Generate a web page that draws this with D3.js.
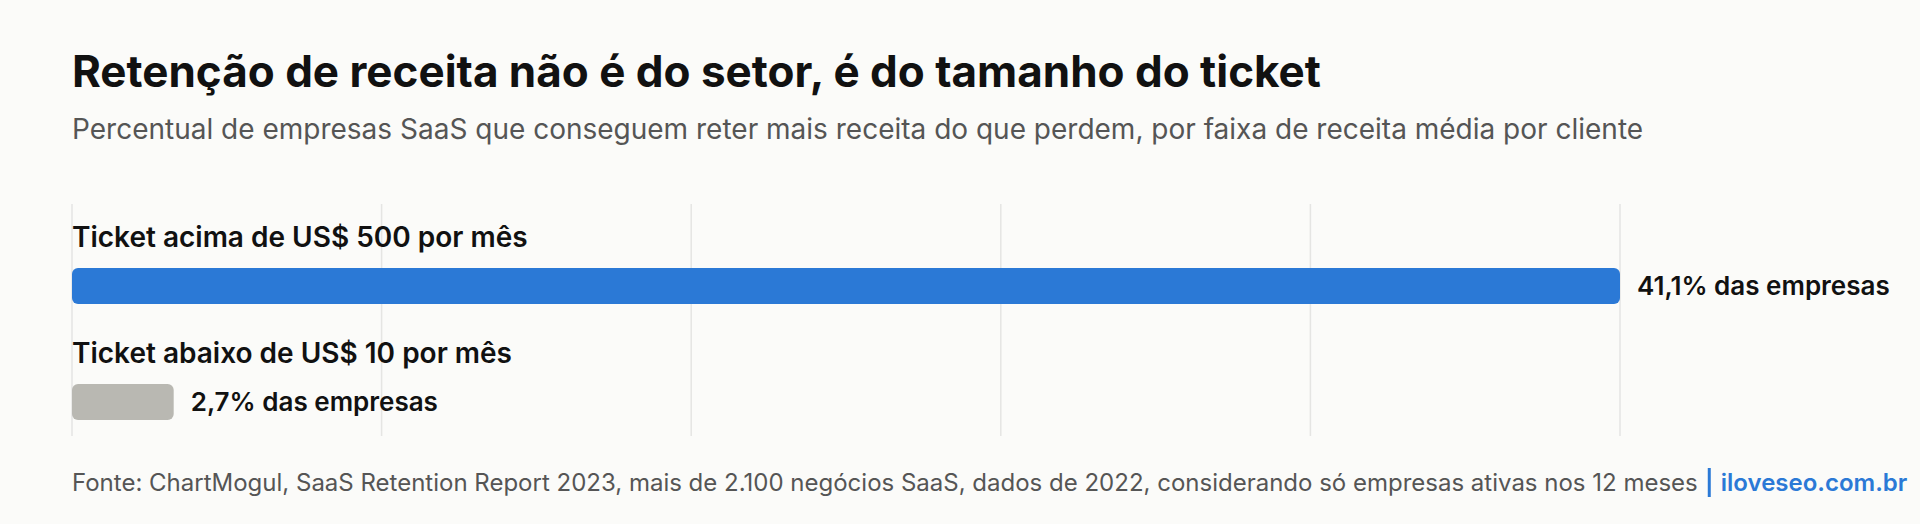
<!DOCTYPE html>
<html><head><meta charset="utf-8">
<script src="https://cdn.jsdelivr.net/npm/d3@7"></script>
<style>
  body { margin: 0; background: #fbfbf9; font-family: Inter, 'Noto Sans', sans-serif; }
</style>
</head><body>
<svg id="chart" width="1920" height="524"></svg>
<script>
// dados (ChartMogul, SaaS Retention Report 2023)
const categories = ['Ticket acima de US$ 500 por mês', 'Ticket abaixo de US$ 10 por mês'];
const values = [41.1, 2.7];
const valueLabels = ['41,1% das empresas', '2,7% das empresas'];
const barColors = ['#2b79d6', '#b9b8b2'];

const title = 'Retenção de receita não é do setor, é do tamanho do ticket';
const subtitle = 'Percentual de empresas SaaS que conseguem reter mais receita do que perdem, por faixa de receita média por cliente';
const source = 'Fonte: ChartMogul, SaaS Retention Report 2023, mais de 2.100 negócios SaaS, dados de 2022, considerando só empresas ativas nos 12 meses';
const brand = 'iloveseo.com.br';

const left = 72;
const barHeight = 36;

const svg = d3.select('#chart');

const x = d3.scaleLinear()
    .domain([0, d3.max(values)])
    .range([left, 1620]);

const y = d3.scaleBand()
    .domain(categories)
    .range([205, 437]);

// titulo
svg.append('text')
    .attr('x', left)
    .attr('y', 87)
    .attr('font-size', 44)
    .attr('font-weight', 700)
    .attr('fill', '#111')
    .text(title);

svg.append('text')
    .attr('x', left)
    .attr('y', 139)
    .attr('font-size', 28)
    .attr('fill', '#555')
    .text(subtitle);

// grade vertical
const gridVals = d3.range(6).map(i => d3.max(values) * i / 5);
svg.append('g')
    .selectAll('line')
    .data(gridVals)
    .join('line')
    .attr('x1', d => x(d))
    .attr('x2', d => x(d))
    .attr('y1', 204)
    .attr('y2', 436)
    .attr('stroke', '#e5e5e3')
    .attr('stroke-width', 1.5);

const rows = svg.append('g')
    .selectAll('g')
    .data(categories)
    .join('g')
    .attr('transform', d => `translate(0,${y(d)})`);

rows.append('text')
    .attr('x', left)
    .attr('y', 42)
    .attr('font-size', 28)
    .attr('font-weight', 600)
    .attr('fill', '#111')
    .text(d => d);

rows.append('rect')
    .attr('x', x(0))
    .attr('y', 63)
    .attr('width', (d, i) => x(values[i]) - x(0))
    .attr('height', barHeight)
    .attr('rx', 6)
    .attr('fill', (d, i) => barColors[i]);

rows.append('text')
    .attr('x', (d, i) => x(values[i]) + 17)
    .attr('y', 63 + barHeight / 2)
    .attr('dy', '0.35em')
    .attr('font-size', 26)
    .attr('font-weight', 600)
    .attr('fill', '#111')
    .text((d, i) => valueLabels[i]);

// fonte
const src = svg.append('text')
    .attr('x', left)
    .attr('y', 491)
    .attr('font-size', 24)
    .attr('fill', '#555')
    .text(source);

const srcEnd = left + src.node().getComputedTextLength();

svg.append('rect')
    .attr('x', srcEnd + 10)
    .attr('y', 468)
    .attr('width', 3)
    .attr('height', 29)
    .attr('fill', '#2b79d6');

svg.append('text')
    .attr('x', srcEnd + 23)
    .attr('y', 491)
    .attr('font-size', 24)
    .attr('font-weight', 600)
    .attr('fill', '#2b79d6')
    .text(brand);
</script>
</body></html>
